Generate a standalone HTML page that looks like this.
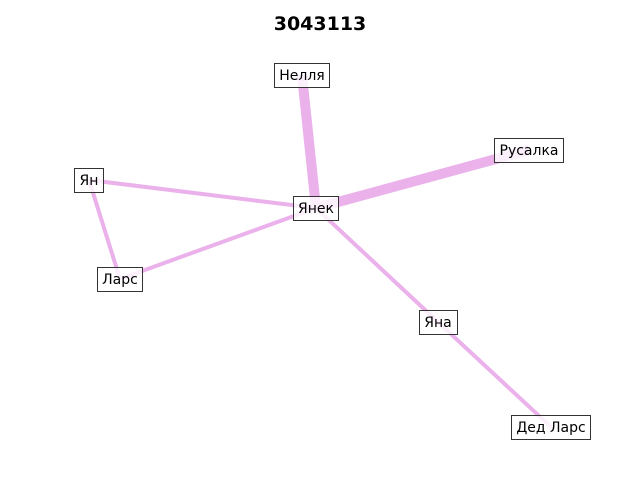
<!DOCTYPE html>
<html><head><meta charset="utf-8"><style>
body{margin:0;background:#fff;}
svg text{font-family:"DejaVu Sans","Liberation Sans",sans-serif;}
</style></head><body>
<svg width="640" height="480" viewBox="0 0 640 480" xmlns="http://www.w3.org/2000/svg">
<rect width="640" height="480" fill="#fff"/>
<text x="320" y="30" text-anchor="middle" font-size="19" font-weight="bold">3043113</text>
<g stroke="#ebb1eb" stroke-linecap="butt">
<line x1="302" y1="75" x2="316" y2="208" stroke-width="10"/>
<line x1="529" y1="150" x2="316" y2="208" stroke-width="10"/>
<line x1="89" y1="180" x2="316" y2="208" stroke-width="4"/>
<line x1="120" y1="279" x2="316" y2="208" stroke-width="4"/>
<line x1="89" y1="180" x2="120" y2="279" stroke-width="4"/>
<line x1="316" y1="208" x2="438" y2="322" stroke-width="4"/>
<line x1="438" y1="322" x2="551" y2="427" stroke-width="4"/>
</g>
<g font-size="14" text-anchor="middle" fill="#000">
<g><rect x="274.5" y="63.5" width="55" height="24" fill="#fff" fill-opacity="0.8" stroke="#333"/><text x="302" y="80">Нелля</text></g>
<g><rect x="494.5" y="138.5" width="69" height="24" fill="#fff" fill-opacity="0.8" stroke="#333"/><text x="529" y="155">Русалка</text></g>
<g><rect x="74.5" y="168.5" width="29" height="24" fill="#fff" fill-opacity="0.8" stroke="#333"/><text x="89" y="185">Ян</text></g>
<g><rect x="293.5" y="196.5" width="45" height="24" fill="#fff" fill-opacity="0.8" stroke="#333"/><text x="316" y="213">Янек</text></g>
<g><rect x="97.5" y="267.5" width="45" height="24" fill="#fff" fill-opacity="0.8" stroke="#333"/><text x="120" y="284">Ларс</text></g>
<g><rect x="419.5" y="310.5" width="38" height="24" fill="#fff" fill-opacity="0.8" stroke="#333"/><text x="438" y="327">Яна</text></g>
<g><rect x="511.5" y="415.5" width="79" height="24" fill="#fff" fill-opacity="0.8" stroke="#333"/><text x="551" y="432">Дед Ларс</text></g>
</g>
</svg>
</body></html>
